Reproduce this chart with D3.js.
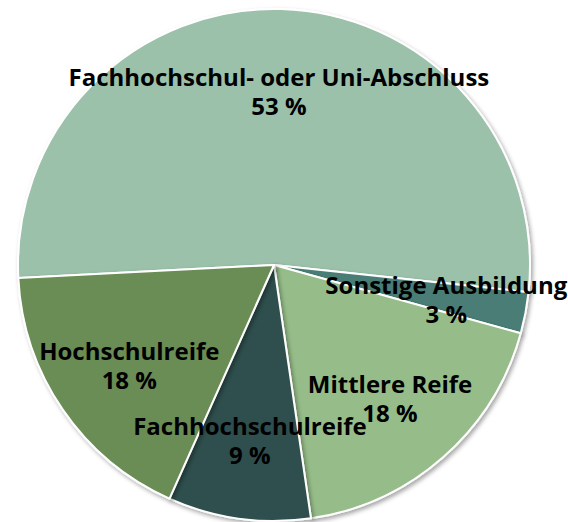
<!DOCTYPE html>
<html>
<head>
<meta charset="utf-8">
<script src="https://cdn.jsdelivr.net/npm/d3@7"></script>
<style>
  html, body { margin: 0; padding: 0; background: #ffffff; }
  svg { display: block; }
</style>
</head>
<body>
<svg id="chart" width="568" height="522"></svg>
<script>
// ---- data ----
const categories = [
  "Fachhochschul- oder Uni-Abschluss",
  "Sonstige Ausbildung",
  "Mittlere Reife",
  "Fachhochschulreife",
  "Hochschulreife"
];
const values = [52.5, 2.6, 18.4, 9.0, 17.5];
const percentLabels = ["53 %", "3 %", "18 %", "9 %", "18 %"];
const colors = ["#9bc1aa", "#4a7d74", "#96bd89", "#2f504d", "#6a8c54"];

// ---- layout ----
const W = 568, H = 522;
const cx = 274, cy = 265, R = 256;
const startDeg = -92.9;

const svg = d3.select("#chart");
const defs = svg.append("defs");
const f = defs.append("filter").attr("id", "shadow")
  .attr("x", "-20%").attr("y", "-20%").attr("width", "140%").attr("height", "140%");
f.append("feDropShadow").attr("dx", 2).attr("dy", 2.5).attr("stdDeviation", 2.2)
  .attr("flood-color", "#000").attr("flood-opacity", 0.35);

const data = categories.map((c, i) => ({ name: c, value: values[i], label: percentLabels[i], color: colors[i] }));

const pie = d3.pie().sort(null).value(d => d.value)
  .startAngle(startDeg * Math.PI / 180)
  .endAngle(startDeg * Math.PI / 180 + 2 * Math.PI);
const arcs = pie(data);

const arc = d3.arc().innerRadius(0).outerRadius(R);
const labelArc = d3.arc().innerRadius(R * 0.685).outerRadius(R * 0.685);

const g = svg.append("g").attr("transform", `translate(${cx},${cy})`);

g.selectAll("path.slice").data(arcs).join("path")
  .attr("class", "slice")
  .attr("d", arc)
  .attr("fill", d => d.data.color)
  .attr("stroke", "#ffffff")
  .attr("stroke-width", 2)
  .attr("stroke-linejoin", "round")
  .attr("filter", "url(#shadow)");

const fontSize = 24;
const lineGap = 29;
const labels = g.selectAll("text.lbl").data(arcs).join("text")
  .attr("class", "lbl")
  .attr("text-anchor", "middle")
  .attr("font-family", "'Open Sans', 'DejaVu Sans', sans-serif")
  .attr("font-weight", 700)
  .attr("font-size", fontSize)
  .attr("fill", "#000")
  .attr("transform", d => {
    const [x, y] = labelArc.centroid(d);
    return `translate(${x},${y})`;
  });

labels.append("tspan").attr("x", 0).attr("y", -lineGap / 2 + fontSize * 0.45)
  .text(d => d.data.name);
labels.append("tspan").attr("x", 0).attr("y", lineGap / 2 + fontSize * 0.45)
  .text(d => d.data.label);
</script>
</body>
</html>
